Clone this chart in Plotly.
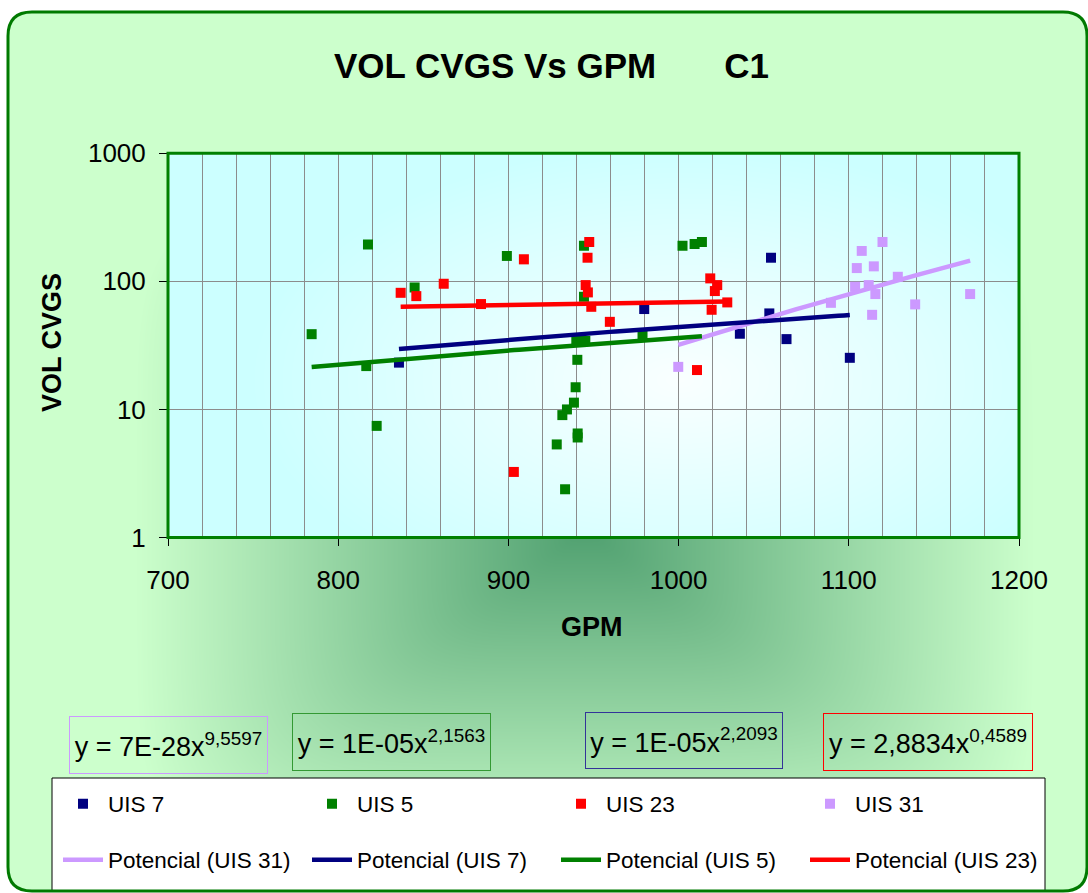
import base64
import struct
import zlib

import numpy as np
import plotly.graph_objects as go

W, H = 1088, 893
FONT = "Liberation Sans, Arial, sans-serif"

# ---------------- data ----------------
uis7_gpm = [835.7, 979.8, 1036.0, 1053.3, 1054.3, 1063.4, 1100.6]
uis7_vol = [23.2, 60.8, 39.0, 56.2, 153.0, 35.4, 25.3]

uis5_gpm = [784.4, 816.5, 817.5, 822.6, 844.9, 899.1, 928.4, 931.7, 933.3, 934.4,
            938.5, 939.5, 939.9, 940.5, 940.7, 940.7, 944.4, 944.4, 945.2, 978.8,
            1002.3, 1009.4, 1013.7]
uis5_vol = [38.7, 21.8, 194.0, 7.44, 89.6, 158.0, 5.33, 9.03, 2.38, 10.0,
            11.3, 14.9, 34.3, 24.4, 6.49, 6.04, 190.0, 75.8, 34.3, 37.6,
            190.0, 195.5, 203.0]

uis23_gpm = [836.7, 845.9, 862.0, 883.9, 903.2, 909.1, 945.4, 946.5, 946.7, 947.5,
             948.7, 959.6, 1010.8, 1018.6, 1019.4, 1021.3, 1022.7, 1028.6]
uis23_vol = [81.4, 76.7, 95.8, 66.5, 3.25, 148.5, 93.5, 153.0, 82.0, 203.0,
             63.3, 48.3, 20.3, 105.5, 60.0, 84.0, 93.5, 68.5]

uis31_gpm = [999.8, 1089.5, 1103.7, 1104.7, 1107.6, 1111.7, 1113.7, 1114.7, 1115.6,
             1119.8, 1128.8, 1139.0, 1171.3]
uis31_vol = [21.5, 68.0, 90.8, 127.0, 173.0, 93.5, 54.8, 131.0, 79.6,
             203.0, 108.6, 66.1, 79.6]

# power trendlines  y = a * x^b
trend_coef = {"UIS 31": 6.7e-28, "UIS 5": 1.23e-05, "UIS 7": 1.04e-05, "UIS 23": 2.8834}
trend_exp = {"UIS 31": 9.5597, "UIS 5": 2.1563, "UIS 7": 2.2093, "UIS 23": 0.4589}

y_tick_vals = [1, 10, 100, 1000]
y_tick_text = ["1", "10", "100", "1000"]

series = {
    "UIS 7": (uis7_gpm, uis7_vol, "#000080"),
    "UIS 5": (uis5_gpm, uis5_vol, "#008000"),
    "UIS 23": (uis23_gpm, uis23_vol, "#FF0000"),
    "UIS 31": (uis31_gpm, uis31_vol, "#CC99FF"),
}
marker_order = ["UIS 7", "UIS 5", "UIS 23", "UIS 31"]
trend_order = ["UIS 31", "UIS 7", "UIS 5", "UIS 23"]


def fx(px):
    return px / W


def fy(py):
    return 1 - py / H


# plot-area pixel box
PX0, PX1, PY0, PY1 = 168, 1019, 153.3, 537.5
# chart-area pixel box
CX0, CY0, CX1, CY1, CR = 8, 12, 1087, 891, 24


# ---------------- background gradients (chart area + plot area) ----------------
def png_uri(rgb):
    arr = np.clip(np.rint(rgb), 0, 255).astype(np.uint8)
    h, w, _ = arr.shape
    diff = arr.astype(np.int16)
    diff[:, 1:, :] -= arr[:, :-1, :].astype(np.int16)
    diff = (diff % 256).astype(np.uint8)
    rows = np.concatenate([np.ones((h, 1), np.uint8), diff.reshape(h, w * 3)], axis=1)

    def chunk(tag, data):
        return (struct.pack(">I", len(data)) + tag + data
                + struct.pack(">I", zlib.crc32(tag + data) & 0xFFFFFFFF))

    png = (b"\x89PNG\r\n\x1a\n"
           + chunk(b"IHDR", struct.pack(">IIBBBBB", w, h, 8, 2, 0, 0, 0))
           + chunk(b"IDAT", zlib.compress(rows.tobytes(), 9))
           + chunk(b"IEND", b""))
    return "data:image/png;base64," + base64.b64encode(png).decode()


yy, xx = np.mgrid[0:H, 0:W].astype(float) + 0.5
bg = np.full((H, W, 3), 255.0)

# chart area: centre-out green gradient
gcx, gcy, ghx, ghy, gp = 585, 530, 450, 340, 6
t = ((np.abs(xx - gcx) / ghx) ** gp + (np.abs(yy - gcy) / ghy) ** gp) ** (1 / gp)
t = np.clip(t, 0, 1)[..., None]
dark = np.array([80, 160, 112.0])
light = np.array([204, 255, 204.0])
area = dark + (light - dark) * t

inside = (xx >= CX0) & (xx <= CX1) & (yy >= CY0) & (yy <= CY1)
for ccx, ccy in [(CX0 + CR, CY0 + CR), (CX1 - CR, CY0 + CR), (CX0 + CR, CY1 - CR), (CX1 - CR, CY1 - CR)]:
    corner = (np.abs(xx - ccx) <= CR) & (np.abs(yy - ccy) <= CR)
    sx = np.sign(xx - ccx)
    sy = np.sign(yy - ccy)
    outer = corner & (sx == np.sign(ccx - W / 2)) & (sy == np.sign(ccy - H / 2))
    inside &= ~(outer & (np.hypot(xx - ccx, yy - ccy) > CR))
bg = np.where(inside[..., None], area, bg)

# plot area: cyan fading to white toward the middle
pcx, pcy, phx, phy = 680, 380, 430, 235
t2 = np.clip(np.hypot((xx - pcx) / phx, (yy - pcy) / phy), 0, 1)[..., None]
cyan = np.array([204, 255, 255.0])
white = np.array([250, 255, 255.0])
pa = white + (cyan - white) * t2
in_plot = (xx >= PX0) & (xx <= PX1) & (yy >= PY0) & (yy <= PY1)
bg = np.where(in_plot[..., None], pa, bg)

# ---------------- figure ----------------
fig = go.Figure()

for name in marker_order:
    gx, gv, col = series[name]
    fig.add_trace(go.Scatter(
        x=gx, y=gv, mode="markers", name=name, legend="legend",
        marker=dict(symbol="square", size=10, color=col, line=dict(width=0)),
    ))

for name in trend_order:
    gx, gv, col = series[name]
    xs = np.linspace(min(gx), max(gx), 80)
    ys = trend_coef[name] * xs ** trend_exp[name]
    fig.add_trace(go.Scatter(
        x=xs, y=ys, mode="lines", name=f"Potencial ({name})", legend="legend2",
        line=dict(color=col, width=4.5),
    ))

axis_grid = "#8c8c8c"
TICK_SIZE = 26
LEG_X = 58
legend_common = dict(
    orientation="h", xanchor="left", yanchor="middle",
    entrywidth=194, entrywidthmode="pixels", itemwidth=40,
    font=dict(size=22.5, family=FONT), bgcolor="rgba(0,0,0,0)", borderwidth=0,
    traceorder="normal",
)
fig.update_layout(
    width=W, height=H,
    margin=dict(l=0, r=0, t=0, b=0, autoexpand=False),
    paper_bgcolor="white",
    plot_bgcolor="rgba(0,0,0,0)",
    font=dict(family=FONT, color="black"),
    showlegend=True,
    xaxis=dict(
        domain=[fx(PX0), fx(PX1)], range=[700, 1200], tick0=700, dtick=100,
        showgrid=True, gridcolor=axis_grid, gridwidth=1,
        minor=dict(dtick=20, showgrid=True, gridcolor=axis_grid, gridwidth=1),
        ticks="outside", ticklen=7, tickcolor="black",
        showline=True, linecolor="black", linewidth=1,
        zeroline=False, tickfont=dict(size=TICK_SIZE, family=FONT),
        ticklabelstandoff=12, automargin=False,
    ),
    yaxis=dict(
        domain=[fy(PY1), fy(PY0)], type="log", range=[0, 3],
        tickvals=y_tick_vals, ticktext=y_tick_text,
        showgrid=True, gridcolor=axis_grid, gridwidth=1,
        ticks="outside", ticklen=8, tickcolor="black",
        showline=True, linecolor="black", linewidth=1,
        zeroline=False, tickfont=dict(size=TICK_SIZE, family=FONT),
        ticklabelstandoff=8, automargin=False,
    ),
    legend=dict(x=fx(LEG_X), y=fy(804), **legend_common),
    legend2=dict(x=fx(LEG_X), y=fy(860), **legend_common),
    images=[dict(
        source=png_uri(bg), xref="paper", yref="paper", x=0, y=1,
        sizex=1, sizey=1, xanchor="left", yanchor="top",
        sizing="stretch", layer="below",
    )],
)

# rounded chart-area outline
r = CR
outline = (
    f"M {fx(CX0 + r)},{fy(CY0)} L {fx(CX1 - r)},{fy(CY0)} "
    f"Q {fx(CX1)},{fy(CY0)} {fx(CX1)},{fy(CY0 + r)} "
    f"L {fx(CX1)},{fy(CY1 - r)} Q {fx(CX1)},{fy(CY1)} {fx(CX1 - r)},{fy(CY1)} "
    f"L {fx(CX0 + r)},{fy(CY1)} Q {fx(CX0)},{fy(CY1)} {fx(CX0)},{fy(CY1 - r)} "
    f"L {fx(CX0)},{fy(CY0 + r)} Q {fx(CX0)},{fy(CY0)} {fx(CX0 + r)},{fy(CY0)} Z"
)
fig.add_shape(type="rect", xref="paper", yref="paper",
              x0=fx(52), x1=fx(1045), y0=fy(891), y1=fy(778),
              fillcolor="white", line=dict(color="black", width=1), layer="below")
fig.add_shape(type="path", path=outline, xref="paper", yref="paper",
              line=dict(color="#007a00", width=3), layer="above")
fig.add_shape(type="rect", xref="x domain", yref="y domain", x0=0, x1=1, y0=0, y1=1,
              line=dict(color="#008000", width=3), layer="above")


# trendline equation labels
def fmt_coef(c):
    if c >= 1:
        return f"{c:.4f}".replace(".", ",")
    return f"{c:.0E}"


eq_boxes = {
    "UIS 31": (70, 267, 717, 773, "#CC99FF"),
    "UIS 5": (293, 490, 714, 770, "#339933"),
    "UIS 7": (586, 782, 713, 768, "#333399"),
    "UIS 23": (824, 1032, 714, 770, "#FF0000"),
}
for name, (x0, x1, y0, y1, bcol) in eq_boxes.items():
    txt = f"y = {fmt_coef(trend_coef[name])}x<sup>{trend_exp[name]:.4f}</sup>".replace(".", ",")
    fig.add_annotation(
        text=txt, xref="paper", yref="paper",
        x=fx((x0 + x1) / 2), y=fy((y0 + y1) / 2), xanchor="center", yanchor="middle",
        width=x1 - x0, height=y1 - y0, align="center", valign="middle",
        bordercolor=bcol, borderwidth=1, borderpad=0, showarrow=False,
        font=dict(size=27, family=FONT, color="black"),
    )

# titles
fig.add_annotation(
    text="<b>VOL CVGS Vs GPM" + "\u00a0" * 7 + "C1</b>", xref="paper", yref="paper",
    x=fx(551), y=fy(65), xanchor="center", yanchor="middle", showarrow=False,
    font=dict(size=35, family=FONT, color="black"),
)
fig.add_annotation(
    text="<b>GPM</b>", xref="paper", yref="paper",
    x=fx(592), y=fy(627), xanchor="center", yanchor="middle", showarrow=False,
    font=dict(size=27, family=FONT, color="black"),
)
fig.add_annotation(
    text="<b>VOL CVGS</b>", xref="paper", yref="paper", textangle=-90,
    x=fx(52), y=fy(343), xanchor="center", yanchor="middle", showarrow=False,
    font=dict(size=27, family=FONT, color="black"),
)

fig.write_html("out.html")
